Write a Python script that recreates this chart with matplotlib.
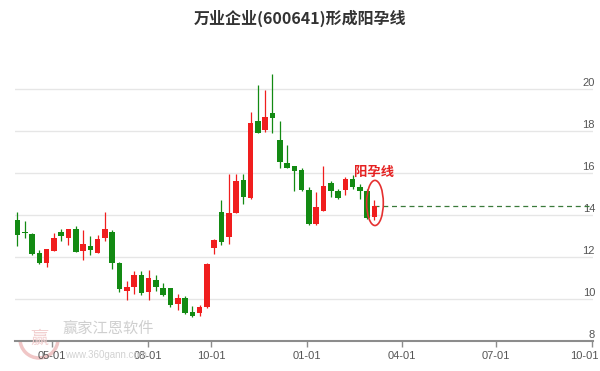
import matplotlib
matplotlib.use('Agg')
import matplotlib.pyplot as plt
import matplotlib.dates as mdates
from matplotlib.patches import Ellipse
from matplotlib.transforms import ScaledTranslation
import numpy as np
import pandas as pd

plt.rcParams['font.family'] = ['Noto Sans CJK SC', 'DejaVu Sans']

# weekly candles (open, high, low, close)
opens = [13.76, 13.14, 13.05, 12.16, 11.70, 12.27, 13.18, 12.90, 13.32, 12.24,
         12.48, 12.19, 12.89, 13.19, 11.68, 10.35, 10.54, 11.14, 10.30, 10.90,
         10.51, 10.49, 9.73, 10.03, 9.35, 9.30, 9.59, 12.40, 14.10, 12.92,
         14.08, 15.62, 14.78, 18.44, 18.00, 18.83, 17.56, 16.44, 16.29, 16.13,
         15.17, 13.56, 14.19, 15.51, 15.14, 15.19, 15.70, 15.33, 15.14, 13.87]
highs = [14.10, 13.71, 13.13, 12.33, 12.37, 13.11, 13.29, 13.32, 13.44, 13.27,
         12.97, 13.03, 14.11, 13.27, 11.76, 10.81, 11.33, 11.33, 11.38, 11.10,
         10.75, 10.52, 10.22, 10.14, 9.63, 9.67, 11.70, 12.81, 14.70, 15.94,
         15.94, 15.94, 18.87, 20.19, 19.94, 20.67, 18.44, 17.32, 16.31, 16.22,
         15.30, 15.06, 16.33, 15.59, 15.22, 15.78, 15.86, 15.46, 15.22, 14.67]
lows = [12.52, 12.90, 12.05, 11.62, 11.52, 12.25, 12.73, 12.57, 12.20, 11.81,
        12.05, 12.17, 12.76, 11.41, 10.32, 9.94, 10.22, 10.17, 9.95, 10.35,
        10.11, 9.59, 9.46, 9.24, 9.11, 9.19, 9.56, 12.13, 12.56, 12.60,
        14.06, 14.48, 14.76, 17.88, 17.95, 17.87, 16.22, 16.20, 15.14, 15.11,
        13.51, 13.51, 14.16, 14.83, 14.75, 14.94, 15.22, 14.75, 13.79, 13.75]
closes = [13.00, 13.10, 12.10, 11.71, 12.35, 12.87, 12.97, 13.32, 12.22, 12.59,
          12.29, 12.81, 13.29, 11.70, 10.44, 10.54, 11.14, 10.27, 10.98, 10.57,
          10.19, 9.71, 10.01, 9.32, 9.19, 9.59, 11.65, 12.79, 12.71, 14.06,
          15.59, 14.83, 18.37, 17.90, 18.63, 18.60, 16.49, 16.22, 16.05, 15.17,
          13.56, 14.38, 15.38, 15.14, 14.79, 15.67, 15.30, 15.14, 13.84, 14.40]

weeks = pd.date_range('2019-03-29', periods=len(opens), freq='7D')
tick_dates = ['2019-05-01', '2019-08-01', '2019-10-01', '2020-01-01',
              '2020-04-01', '2020-07-01', '2020-10-01']
y_ticks = [8, 10, 12, 14, 16, 18, 20]
title = '万业企业(600641)形成阳孕线'
pattern_label = '阳孕线'

red = '#f01e1e'
green = '#138a13'

fig = plt.figure(figsize=(6, 3.71), dpi=100)
ax = fig.add_axes([15 / 600, 1 - 340.5 / 371, 578 / 600, 280.5 / 371])

x = mdates.date2num(weeks)
o = np.array(opens)
c = np.array(closes)
colors = [red if cc >= oo else green for oo, cc in zip(o, c)]

ax.vlines(x, lows, highs, colors=colors, linewidth=0.9, zorder=3)
bottom = np.minimum(o, c)
height = np.maximum(np.abs(c - o), 0.05)
ax.bar(x, height, bottom=bottom, width=5.3, color=colors, linewidth=0, zorder=4)

x_left = x[0] - 2.4
x_right = mdates.date2num(pd.Timestamp('2020-10-01')) + 1
ax.set_xlim(x_left, x_right)
ax.set_ylim(8, 8 + 280.5 / 21)

# dashed line from the last close
ax.hlines(closes[-1], x[-1], x_right, colors='#3a7a3a', linestyles=(0, (4, 3)),
          linewidth=0.9, zorder=2)

# mark the pattern
ax.add_patch(Ellipse((x[-1] + 0.5, 14.55), width=16, height=2.15, fill=False,
                     edgecolor='#e53030', linewidth=1.2, zorder=5))
ax.text(x[-1], 16.02, pattern_label, color='#e52020', fontsize=9.6,
        fontweight='bold', ha='center', va='center', zorder=6)

# grid
for v in y_ticks[1:]:
    ax.axhline(v, color='#e6e6e6', linewidth=1, zorder=0)

for s in ['top', 'left', 'right']:
    ax.spines[s].set_visible(False)
ax.spines['bottom'].set_color('#8c8c8c')
ax.spines['bottom'].set_linewidth(1.5)

ax.set_xticks(mdates.date2num(pd.to_datetime(tick_dates)))
ax.set_xticklabels([pd.Timestamp(d).strftime('%m-%d') for d in tick_dates],
                   family=['Liberation Sans', 'DejaVu Sans'])
ax.tick_params(axis='x', length=4.5, width=1, color='#8c8c8c', pad=3,
               labelsize=8, labelcolor='#555555')
# last label sits flush with the right edge
last = ax.xaxis.get_major_ticks()[-1].label1
last.set_horizontalalignment('right')
last.set_transform(last.get_transform() + ScaledTranslation(7 / 100, 0, fig.dpi_scale_trans))

ax.yaxis.tick_right()
ax.set_yticks(y_ticks)
ax.set_yticklabels([str(v) for v in y_ticks], family=['Liberation Sans', 'DejaVu Sans'])
ax.tick_params(axis='y', length=0, pad=1.5, labelsize=8, labelcolor='#555555')
for t in ax.yaxis.get_major_ticks():
    t.label2.set_horizontalalignment('right')
    t.label2.set_verticalalignment('bottom')

fig.text(0.5, 1 - 18 / 371, title, ha='center', va='center', fontsize=11.5,
         fontweight='bold', color='#333333')

# watermark
fig.add_artist(Ellipse((39 / 600, 1 - 339 / 371), 38 / 600, 38 / 371,
                       transform=fig.transFigure, fill=False, edgecolor='#f0c6c6',
                       linewidth=2.5, zorder=0))
fig.text(39 / 600, 1 - 339 / 371, '赢', ha='center', va='center', fontsize=13,
         color='#f2d0d0', zorder=0)
fig.text(108 / 600, 1 - 328 / 371, '赢家江恩软件', ha='center', va='center',
         fontsize=11, color='#cfcfcf', zorder=0)
fig.text(106 / 600, 1 - 355 / 371, 'www.360gann.com', ha='center', va='center',
         fontsize=7, color='#d2d2d2', zorder=0, family=['Liberation Sans', 'DejaVu Sans'])

fig.savefig('out.png', dpi=100)
